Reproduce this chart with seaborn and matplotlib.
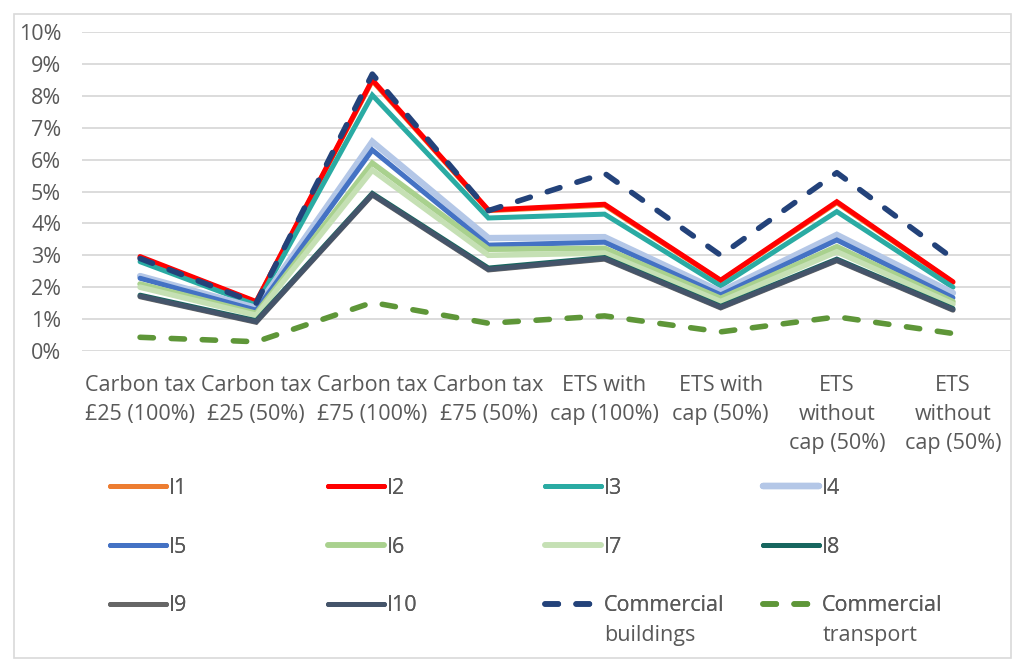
import numpy as np
import pandas as pd
import seaborn as sns
import matplotlib.pyplot as plt
from matplotlib.patches import Rectangle
from matplotlib.text import Annotation
from matplotlib.ticker import FuncFormatter

# categorie (asse x)
categories = ["Carbon tax\n£25 (100%)", "Carbon tax\n£25 (50%)", "Carbon tax\n£75 (100%)",
              "Carbon tax\n£75 (50%)", "ETS with\ncap (100%)", "ETS with\ncap (50%)",
              "ETS\nwithout\ncap (50%)", "ETS\nwithout\ncap (50%)"]

# valori in percentuale
i1 = [2.93, 1.53, 8.47, 4.40, 4.57, 2.20, 4.65, 2.15]
i2 = [2.96, 1.55, 8.50, 4.42, 4.60, 2.22, 4.68, 2.17]
i3 = [2.80, 1.44, 8.02, 4.17, 4.29, 2.04, 4.37, 2.00]
i4 = [2.35, 1.35, 6.56, 3.54, 3.57, 1.86, 3.64, 1.82]
i5 = [2.28, 1.28, 6.30, 3.32, 3.41, 1.76, 3.48, 1.67]
i6 = [2.10, 1.18, 5.89, 3.19, 3.22, 1.65, 3.27, 1.55]
i7 = [2.00, 1.12, 5.67, 3.00, 3.07, 1.55, 3.11, 1.47]
i8 = [1.75, 0.95, 4.94, 2.60, 2.93, 1.40, 2.88, 1.33]
i9 = [1.70, 0.90, 4.89, 2.54, 2.88, 1.35, 2.83, 1.28]
i10 = [1.72, 0.92, 4.91, 2.56, 2.90, 1.37, 2.85, 1.30]
comm_buildings = [2.90, 1.50, 8.68, 4.40, 5.57, 3.00, 5.59, 2.90]
comm_transport = [0.43, 0.29, 1.52, 0.87, 1.10, 0.60, 1.07, 0.55]

series = {
    "I1": i1, "I2": i2, "I3": i3, "I4": i4, "I5": i5, "I6": i6, "I7": i7,
    "I8": i8, "I9": i9, "I10": i10,
    "Commercial buildings": comm_buildings, "Commercial transport": comm_transport,
}
colori = {
    "I1": "#ED7D31", "I2": "#FF0000", "I3": "#2AABA3", "I4": "#B4C7E7",
    "I5": "#4472C4", "I6": "#A9D18E", "I7": "#C5E0B4", "I8": "#17665F",
    "I9": "#666666", "I10": "#44546A",
    "Commercial buildings": "#23427A", "Commercial transport": "#5E9638",
}
spessori = {"I4": 4.6, "I6": 4.0, "I7": 4.0}

df = pd.DataFrame(series)
df["x"] = np.arange(len(categories))

sns.set_style("white")
plt.rcParams["font.family"] = ["Open Sans", "DejaVu Sans"]
testo = "#595959"
fs = 15.5

fig = plt.figure(figsize=(10.24, 6.69), dpi=100)
ax = fig.add_axes([82 / 1024, 1 - 351 / 669, 929 / 1024, 319 / 669])

handles = {}
for nome in series:
    tratteggio = nome.startswith("Commercial")
    lw = spessori.get(nome, 3.6)
    sns.lineplot(data=df, x="x", y=nome, ax=ax, color=colori[nome], lw=lw,
                 legend=False, zorder=3)
    line = ax.lines[-1]
    line.set_solid_joinstyle("miter")
    if tratteggio:
        line.set_linewidth(4.0)
        line.set_dashes((2.4, 3.2))
        line.set_dash_capstyle("round")
        line.set_dash_joinstyle("round")
        line.set_zorder(4)
    handles[nome] = line

ax.set_xlim(-0.5, len(categories) - 0.5)
ax.set_ylim(0, 10)
ax.set_yticks(np.arange(0, 11, 1))
ax.yaxis.set_major_formatter(FuncFormatter(lambda v, p: f"{int(v)}%"))
ax.set_xticks(df["x"])
ax.set_xticklabels(categories, linespacing=1.5)
ax.set_xlabel("")
ax.set_ylabel("")
ax.tick_params(axis="y", length=0, pad=15, labelsize=fs, labelcolor=testo)
ax.tick_params(axis="x", length=0, pad=17, labelsize=fs, labelcolor=testo)
ax.grid(axis="y", color="#D9D9D9", lw=1.3, zorder=0)
for s in ax.spines.values():
    s.set_visible(False)

# legenda: una colonna alla volta per avere colonne equidistanti
nomi = list(series)
colonne = [nomi[0::4], nomi[1::4], nomi[2::4], nomi[3::4]]
x_col = [110, 328, 545, 763]
for xc, col in zip(x_col, colonne):
    etichette = [n.split(" ")[0] for n in col]
    leg = fig.legend([handles[n] for n in col], etichette, loc="upper left",
                     bbox_to_anchor=(xc / 1024, 1 - 478 / 669), frameon=False,
                     fontsize=fs, handlelength=2.6, handletextpad=0.15,
                     labelspacing=1.75, borderpad=0, borderaxespad=0)
    fig.add_artist(leg)
    for n, t in zip(col, leg.get_texts()):
        t.set_color(testo)
        # seconda riga dell'etichetta sotto la prima, come in Excel
        if " " in n:
            ann = Annotation(n.split(" ")[1], xy=(0, 0), xycoords=t, xytext=(0, -6),
                             textcoords="offset points", va="top", ha="left",
                             fontsize=fs, color=testo, zorder=10)
            fig.add_artist(ann)

# bordo del grafico
fig.patches.append(Rectangle((14 / 1024, 1 - 658 / 669), 997 / 1024, 644 / 669,
                             transform=fig.transFigure, fill=False,
                             edgecolor="#D9D9D9", lw=1.2))

fig.savefig("out.png", dpi=100)
